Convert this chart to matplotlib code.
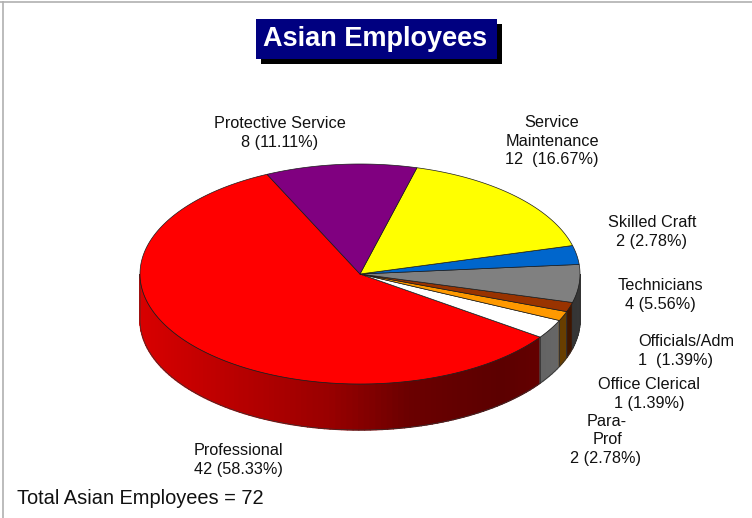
import numpy as np
import matplotlib
matplotlib.use("Agg")
import matplotlib.pyplot as plt
from matplotlib.patches import Polygon, Rectangle

plt.rcParams['font.family'] = ['Liberation Sans', 'DejaVu Sans']

# slices counter-clockwise from the start angle
names = ['Professional', 'Para-Prof', 'Office Clerical', 'Officials/Adm',
         'Technicians', 'Skilled Craft', 'Service Maintenance', 'Protective Service']
counts = [42, 2, 1, 1, 4, 2, 12, 8]
labels = ['Professional\n42 (58.33%)', 'Protective Service\n8 (11.11%)',
          'Service\nMaintenance\n12  (16.67%)', 'Skilled Craft\n2 (2.78%)',
          'Technicians\n4 (5.56%)', 'Office Clerical\n1 (1.39%)',
          'Para-', 'Prof', '2 (2.78%)']
total_label = 'Total Asian Employees = 72'
title = 'Asian Employees'

colors = ['#ff0000', '#ffffff', '#ff9900', '#993300', '#808080', '#0066cc', '#ffff00', '#800080']
label_pos = [(238, 460), (280, 133), (552, 141), (652, 232), (660, 295),
             (649, 394), (607, 422), (607, 440), (606, 459)]

W, H = 752, 518
cx, cy, rx, ry, depth = 360, 274, 220, 110, 46
start = 115

fig = plt.figure(figsize=(W / 100, H / 100), dpi=100)
ax = fig.add_axes([0, 0, 1, 1])
ax.set_xlim(0, W)
ax.set_ylim(H, 0)
ax.axis('off')


def rim(a, drop=0):
    a = np.radians(a)
    return np.column_stack([cx + rx * np.cos(a), cy - ry * np.sin(a) + drop])


def shade(color, x):
    # walls get darker going left to right
    t = (x - (cx - rx)) / (2 * rx)
    f = np.interp(t, [0, 0.43, 0.61, 0.82, 1], [0.85, 0.6, 0.42, 0.36, 0.42])
    return tuple(c * f for c in matplotlib.colors.to_rgb(color))


sweeps = np.array(counts) / sum(counts) * 360
starts = start + np.concatenate([[0], np.cumsum(sweeps)[:-1]])
ends = starts + sweeps

# side wall, front half only
for a0, a1, col in zip(starts, ends, colors):
    for k in range(-2, 1):
        lo = max(a0 + 360 * k, 180)
        hi = min(a1 + 360 * k, 360)
        if lo >= hi:
            continue
        steps = np.linspace(lo, hi, max(int((hi - lo) / 1.5) + 2, 2))
        for s0, s1 in zip(steps[:-1], steps[1:]):
            top = rim(np.array([s0, s1]))
            bot = rim(np.array([s1, s0]), depth)
            c = shade(col, top[:, 0].mean())
            ax.add_patch(Polygon(np.vstack([top, bot]), closed=True, lw=1.0,
                                 fc=c, ec=c, zorder=2))
        ax.add_patch(Polygon(np.vstack([rim(steps), rim(steps[::-1], depth)]), closed=True,
                             fill=False, ec='#333333', lw=0.5, zorder=3))

# top face
for a0, a1, col in zip(starts, ends, colors):
    arc = rim(np.linspace(a0, a1, 200))
    ax.add_patch(Polygon(np.vstack([[cx, cy], arc]), closed=True, fc=col, ec='#1a1a1a',
                         lw=0.5, zorder=4))

# title with drop shadow
ax.add_patch(Rectangle((261, 24), 241, 40, fc='black', ec='none', zorder=5))
ax.add_patch(Rectangle((256, 19), 241, 40, fc='#000080', ec='none', zorder=6))
ax.text(375.5, 39.5, title, color='white', fontsize=19.5, fontweight='bold',
        ha='center', va='center', zorder=7)

for txt, (x, y) in zip(labels, label_pos):
    ax.text(x, y, txt, fontsize=11.7, color='#111111', ha='center', va='center',
            linespacing=1.33, zorder=7)
# this one has its two lines flush left
ax.text(638, 351, 'Officials/Adm\n1  (1.39%)', fontsize=11.7, color='#111111', ha='left',
        va='center', linespacing=1.33, zorder=7)

ax.text(17, 498, total_label, fontsize=14.4, color='#111111',
        ha='left', va='center', zorder=7)

# frame of the original page
ax.plot([0, W], [1.5, 1.5], color='#b0b0b0', lw=1.2, zorder=8)
ax.plot([2.5, 2.5], [1.5, H], color='#b0b0b0', lw=1.2, zorder=8)

fig.savefig('out.png', dpi=100)
